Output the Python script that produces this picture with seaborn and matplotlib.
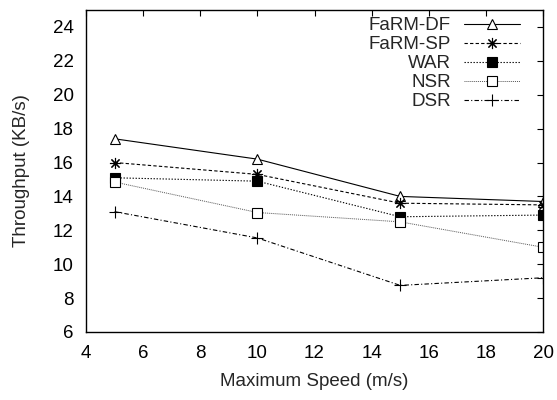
import matplotlib
matplotlib.use("Agg")
import matplotlib.pyplot as plt
import seaborn as sns
import pandas as pd

speeds = [5, 10, 15, 20]
farm_df = [17.4, 16.2, 14.0, 13.7]
farm_sp = [16.0, 15.3, 13.6, 13.5]
war = [15.1, 14.9, 12.8, 12.9]
nsr = [14.85, 13.05, 12.5, 11.0]
dsr = [13.1, 11.55, 8.75, 9.2]

series_names = ["FaRM-DF", "FaRM-SP", "WAR", "NSR", "DSR"]
series_values = [farm_df, farm_sp, war, nsr, dsr]

x_ticks = [4, 6, 8, 10, 12, 14, 16, 18, 20]
y_ticks = [6, 8, 10, 12, 14, 16, 18, 20, 22, 24]

sns.set_theme(style="white")
plt.rcParams["font.family"] = ["Liberation Sans", "DejaVu Sans"]

rows = []
for name, vals in zip(series_names, series_values):
    for s, v in zip(speeds, vals):
        rows.append({"speed": s, "throughput": v, "series": name})
df = pd.DataFrame(rows)

styles = {
    "FaRM-DF": dict(ls="-", marker="^", mfc="white", color="black", lw=0.8, ms=7.5),
    "FaRM-SP": dict(ls=(0, (3, 2)), marker=(8, 2, 0), mfc="black", color="black", lw=0.8, ms=8),
    "WAR": dict(ls=(0, (1.2, 1.5)), marker="s", mfc="black", color="black", lw=0.8, ms=7),
    "NSR": dict(ls=(0, (1, 1)), marker="s", mfc="white", color="#555555", lw=0.7, ms=6.5),
    "DSR": dict(ls=(0, (4, 2, 1, 2)), marker="+", mfc="black", color="black", lw=0.8, ms=8.5),
}

fig = plt.figure(figsize=(5.57, 4.0), dpi=100)
ax = fig.add_axes([0.1544, 0.17, 0.8205, 0.805])

for name in series_names:
    st = styles[name]
    sub = df[df["series"] == name]
    sns.lineplot(data=sub, x="speed", y="throughput", ax=ax, label=name,
                 color=st["color"], linestyle=st["ls"], linewidth=st["lw"],
                 marker=st["marker"], markersize=st["ms"],
                 markerfacecolor=st["mfc"], markeredgecolor="black",
                 markeredgewidth=0.8)

ax.set_xlim(4, 20)
ax.set_ylim(6, 25)
ax.set_xticks(x_ticks)
ax.set_yticks(y_ticks)
ax.tick_params(direction="in", length=4, width=0.8, top=True, right=True,
               labelsize=13.5, colors="black", pad=9)
ax.tick_params(axis="x", pad=9)
ax.set_xlabel("Maximum Speed (m/s)", fontsize=13.5, labelpad=8)
ax.set_ylabel("Throughput (KB/s)", fontsize=13.5, labelpad=16)
for sp in ax.spines.values():
    sp.set_color("black")
    sp.set_linewidth(1.0)

leg = ax.legend(loc="upper right", bbox_to_anchor=(1 - 23 / 457, 1 - 7 / 322),
                frameon=False, markerfirst=False, numpoints=1,
                fontsize=13.5, handlelength=3.0, handletextpad=0.7,
                labelspacing=0.1, borderaxespad=0.0, borderpad=0.0)
for t in leg.get_texts():
    t.set_ha("right")

fig.savefig("out.png", dpi=100)
